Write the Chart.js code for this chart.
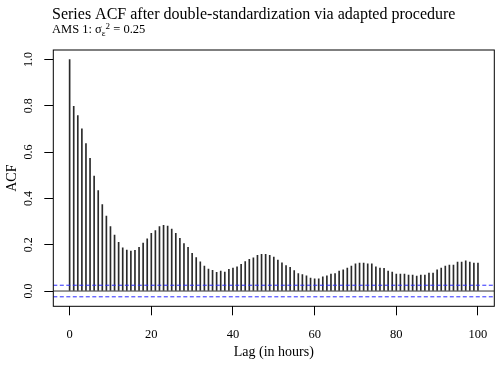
<!DOCTYPE html>
<html>
<head>
<meta charset="utf-8">
<script src="https://cdn.jsdelivr.net/npm/chart.js@4/dist/chart.umd.min.js"></script>
<style>
html, body { margin: 0; padding: 0; background: #fff; }
#wrap { width: 500px; height: 365px; }
</style>
</head>
<body>
<div id="wrap"><canvas id="acfChart" width="500" height="365"></canvas></div>
<script>
// lags (hours) and sample autocorrelations
const lags = [
    0, 1, 2, 3, 4, 5, 6, 7, 8, 9, 10, 11, 12, 13, 14, 15, 16, 17, 18, 19,
    20, 21, 22, 23, 24, 25, 26, 27, 28, 29, 30, 31, 32, 33, 34, 35, 36, 37, 38, 39,
    40, 41, 42, 43, 44, 45, 46, 47, 48, 49, 50, 51, 52, 53, 54, 55, 56, 57, 58, 59,
    60, 61, 62, 63, 64, 65, 66, 67, 68, 69, 70, 71, 72, 73, 74, 75, 76, 77, 78, 79,
    80, 81, 82, 83, 84, 85, 86, 87, 88, 89, 90, 91, 92, 93, 94, 95, 96, 97, 98, 99,
    100
];
const acfValues = [
    1.000, 0.798, 0.758, 0.700, 0.637, 0.573, 0.496, 0.434, 0.373, 0.324,
    0.278, 0.242, 0.210, 0.187, 0.177, 0.173, 0.176, 0.189, 0.207, 0.225,
    0.249, 0.261, 0.278, 0.284, 0.280, 0.268, 0.249, 0.228, 0.205, 0.189,
    0.163, 0.144, 0.126, 0.108, 0.095, 0.089, 0.081, 0.086, 0.082, 0.094,
    0.099, 0.105, 0.115, 0.127, 0.137, 0.143, 0.154, 0.158, 0.158, 0.154,
    0.147, 0.134, 0.122, 0.110, 0.102, 0.088, 0.075, 0.071, 0.066, 0.056,
    0.053, 0.053, 0.061, 0.066, 0.073, 0.075, 0.086, 0.091, 0.099, 0.108,
    0.117, 0.121, 0.121, 0.117, 0.117, 0.104, 0.099, 0.098, 0.086, 0.082,
    0.073, 0.073, 0.073, 0.069, 0.069, 0.065, 0.069, 0.069, 0.078, 0.078,
    0.091, 0.099, 0.108, 0.112, 0.112, 0.125, 0.125, 0.130, 0.125, 0.121,
    0.121
];
const ciBound = 0.025;
const lineEnds = [-4, 104];
const xTicks = [0, 20, 40, 60, 80, 100];
const yTicks = [0, 0.2, 0.4, 0.6, 0.8, 1.0];

const serif = '"Liberation Serif", "Times New Roman", serif';

// title, subtitle (with sigma_eps^2) and the plot box, R style
const rDecor = {
    id: 'rDecor',
    afterDraw(chart) {
        const ctx = chart.ctx;
        const a = chart.chartArea;
        ctx.save();
        ctx.fillStyle = '#000';
        ctx.textBaseline = 'alphabetic';
        ctx.textAlign = 'left';
        ctx.font = '16px ' + serif;
        ctx.fillText('Series ACF after double-standardization via adapted procedure', 52, 18.5);

        let x = 52;
        const base = 33.3;
        ctx.font = '12.5px ' + serif;
        ctx.fillText('AMS 1: \u03C3', x, base);
        x += ctx.measureText('AMS 1: \u03C3').width;
        ctx.font = '9px ' + serif;
        ctx.fillText('\u03B5', x, base + 2.5);
        x += ctx.measureText('\u03B5').width;
        ctx.fillText('2', x, base - 4.5);
        x += ctx.measureText('2').width;
        ctx.font = '12.5px ' + serif;
        ctx.fillText(' = 0.25', x, base);

        ctx.strokeStyle = '#000';
        ctx.lineWidth = 1;
        ctx.strokeRect(a.left, a.top, a.right - a.left, a.bottom - a.top);
        ctx.restore();
    }
};

const barPoints = lags.map((lag, i) => ({ x: lag, y: acfValues[i] }));

new Chart(document.getElementById('acfChart').getContext('2d'), {
    type: 'bar',
    data: {
        datasets: [
            {
                type: 'line',
                data: lineEnds.map(x => ({ x: x, y: 0 })),
                borderColor: '#333',
                borderWidth: 1,
                pointRadius: 0,
                order: 2
            },
            {
                type: 'line',
                data: lineEnds.map(x => ({ x: x, y: ciBound })),
                borderColor: '#2b2bff',
                borderWidth: 1,
                borderDash: [4, 2.5],
                pointRadius: 0,
                order: 1
            },
            {
                type: 'line',
                data: lineEnds.map(x => ({ x: x, y: -ciBound })),
                borderColor: '#2b2bff',
                borderWidth: 1,
                borderDash: [4, 2.5],
                pointRadius: 0,
                order: 1
            },
            {
                data: barPoints,
                backgroundColor: '#2a2a2a',
                borderWidth: 0,
                barThickness: 1,
                order: 3
            }
        ]
    },
    options: {
        responsive: false,
        devicePixelRatio: 1,
        animation: false,
        layout: { padding: { top: 50, right: 5.7, left: 0, bottom: 0 } },
        plugins: {
            legend: { display: false },
            tooltip: { enabled: false },
            title: { display: false }
        },
        scales: {
            x: {
                type: 'linear',
                min: -4,
                max: 104,
                offset: false,
                grid: { drawOnChartArea: false, drawTicks: true, tickLength: 9, tickColor: '#000', offset: false },
                border: { display: false },
                ticks: {
                    color: '#000',
                    font: { family: serif, size: 12.5 },
                    padding: 11.5,
                    maxRotation: 0,
                    autoSkip: false
                },
                afterBuildTicks: s => { s.ticks = xTicks.map(v => ({ value: v })); },
                afterFit: s => { s.height = 58.7; },
                title: {
                    display: true,
                    text: 'Lag (in hours)',
                    color: '#000',
                    font: { family: serif, size: 14 },
                    padding: { top: 0, bottom: 4.6 }
                }
            },
            y: {
                type: 'linear',
                min: -0.066,
                max: 1.041,
                grid: { drawOnChartArea: false, drawTicks: true, tickLength: 9, tickColor: '#000' },
                border: { display: false },
                ticks: {
                    color: '#000',
                    font: { family: serif, size: 12 },
                    minRotation: 90,
                    maxRotation: 90,
                    crossAlign: 'center',
                    padding: 7.6,
                    callback: v => v.toFixed(1)
                },
                afterBuildTicks: s => { s.ticks = yTicks.map(v => ({ value: v })); },
                afterFit: s => { s.width = 53.3; },
                title: {
                    display: true,
                    text: 'ACF',
                    color: '#000',
                    font: { family: serif, size: 14 },
                    padding: { top: 3.5, bottom: 0 }
                }
            }
        }
    },
    plugins: [rDecor]
});
</script>
</body>
</html>
